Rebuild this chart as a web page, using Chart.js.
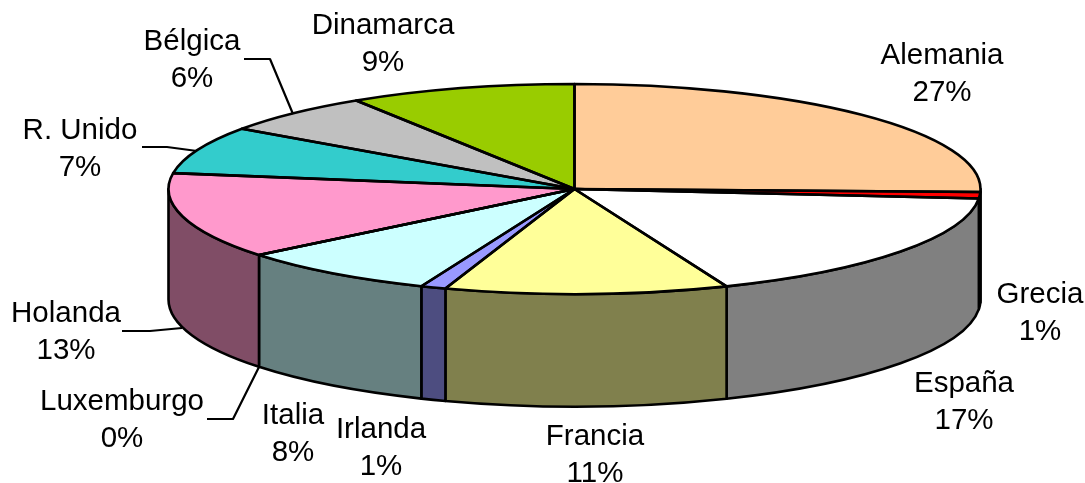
<!DOCTYPE html>
<html>
<head>
<meta charset="utf-8">
<style>
html,body{margin:0;padding:0;background:#fff;overflow:hidden}
#wrap{position:relative;width:1085px;height:483px}
canvas{display:block}
</style>
<script src="https://cdn.jsdelivr.net/npm/chart.js@4"></script>
</head>
<body>
<div id="wrap"><canvas id="c" width="1085" height="483"></canvas></div>
<script>
const categories = ["Alemania","Grecia","España","Francia","Irlanda","Italia","Luxemburgo","Holanda","R. Unido","Bélgica","Dinamarca"];
const shares = [27,1,17,11,1,8,0,13,7,6,9];
const sliceColors = ["#FFCC99","#FF0000","#FFFFFF","#FFFF99","#9999FF","#CCFFFF","#000080","#FF99CC","#33CCCC","#C0C0C0","#99CC00"];

// Label anchors (centre of the first text line) and leader lines: layout only
const labelAt = [[942,56],[1040,295],[964,384],[595,437],[381,430],[293,416],[122,402],[66,314],[80,131],[192,42],[383,26]];
const leaders = [
  [[244,59],[270,59],[293,114]],
  [[142,147],[167,147],[197,151]],
  [[122,331],[150,331],[182,328]],
  [[207,419],[233,419],[259,367]]
];

// Projection of the tilted disc
const view = {cx:574.5, cy:189, rx:406, ry:105, floorDrop:110.5, floorRy:107};
const rad = d => d*Math.PI/180;
// the perspective of the 3-D view slightly compresses the angles near the front
function viewAngle(deg){
  const t = rad(deg);
  const d = 1.707*(1-Math.cos(t)) + 1.4655*Math.sin(t) + 1.13*(1-Math.cos(2*t));
  return deg - d;
}
function halfTone(hex){
  const n = parseInt(hex.slice(1),16);
  const f = v => Math.round(v/2);
  return `rgb(${f(n>>16&255)},${f(n>>8&255)},${f(n&255)})`;
}

const tiltPlugin = {
  id:'tilt',
  afterDatasetsUpdate(chart){
    const arcs = chart.getDatasetMeta(0).data;
    const total = shares.reduce((a,b)=>a+b,0);
    let sum = 0;
    arcs.forEach((arc,i)=>{
      const a0 = viewAngle(sum/total*360);
      sum += shares[i];
      const a1 = viewAngle(sum/total*360);
      arc.startAngle = rad(a0-90);
      arc.endAngle = rad(a1-90);
      arc.circumference = rad(a1-a0);
    });
  },
  beforeDatasetsDraw(chart){
    const ctx = chart.ctx, arcs = chart.getDatasetMeta(0).data;
    const {cx,cy,rx,ry,floorDrop,floorRy} = view;
    // outer wall of the front half
    ctx.save();
    ctx.lineWidth = 2.6; ctx.strokeStyle = '#000'; ctx.lineJoin = 'round';
    arcs.forEach((arc,i)=>{
      const s = Math.max(arc.startAngle,0), e = Math.min(arc.endAngle,Math.PI);
      if(e<=s) return;
      ctx.beginPath();
      ctx.ellipse(cx,cy,rx,ry,0,s,e);
      ctx.ellipse(cx,cy+floorDrop,rx,floorRy,0,e,s,true);
      ctx.closePath();
      ctx.fillStyle = halfTone(sliceColors[i]);
      ctx.fill(); ctx.stroke();
    });
    ctx.restore();
    // top face: the library's arcs, seen through the tilt
    const a = arcs[0];
    const R = a.outerRadius;
    ctx.save();
    ctx.translate(cx,cy);
    ctx.scale(rx/R,ry/R);
    ctx.translate(-a.x,-a.y);
  },
  afterDatasetsDraw(chart){
    const ctx = chart.ctx, arcs = chart.getDatasetMeta(0).data;
    ctx.restore();
    const {cx,cy,rx,ry} = view;
    ctx.save();
    ctx.lineWidth = 2.6; ctx.strokeStyle = '#000'; ctx.lineJoin = 'round';
    arcs.forEach(arc=>{
      ctx.beginPath();
      ctx.moveTo(cx,cy);
      ctx.ellipse(cx,cy,rx,ry,0,arc.startAngle,arc.endAngle);
      ctx.closePath();
      ctx.stroke();
    });
    // leader lines
    ctx.lineWidth = 2.2;
    leaders.forEach(pts=>{
      ctx.beginPath();
      pts.forEach((p,i)=> i?ctx.lineTo(p[0],p[1]):ctx.moveTo(p[0],p[1]));
      ctx.stroke();
    });
    // labels
    ctx.fillStyle = '#000';
    ctx.font = '29.5px "Liberation Sans", Arial, sans-serif';
    ctx.textAlign = 'center';
    ctx.textBaseline = 'middle';
    categories.forEach((name,i)=>{
      const [x,y] = labelAt[i];
      ctx.fillText(name,x,y);
      ctx.fillText(shares[i]+'%',x,y+37);
    });
    ctx.restore();
  }
};

new Chart(document.getElementById('c'),{
  type:'pie',
  data:{labels:categories,datasets:[{data:shares,backgroundColor:sliceColors,borderWidth:0,clip:false}]},
  options:{
    responsive:false,
    animation:false,
    events:[],
    layout:{padding:0},
    plugins:{legend:{display:false},tooltip:{enabled:false},title:{display:false}}
  },
  plugins:[tiltPlugin]
});
</script>
</body>
</html>
